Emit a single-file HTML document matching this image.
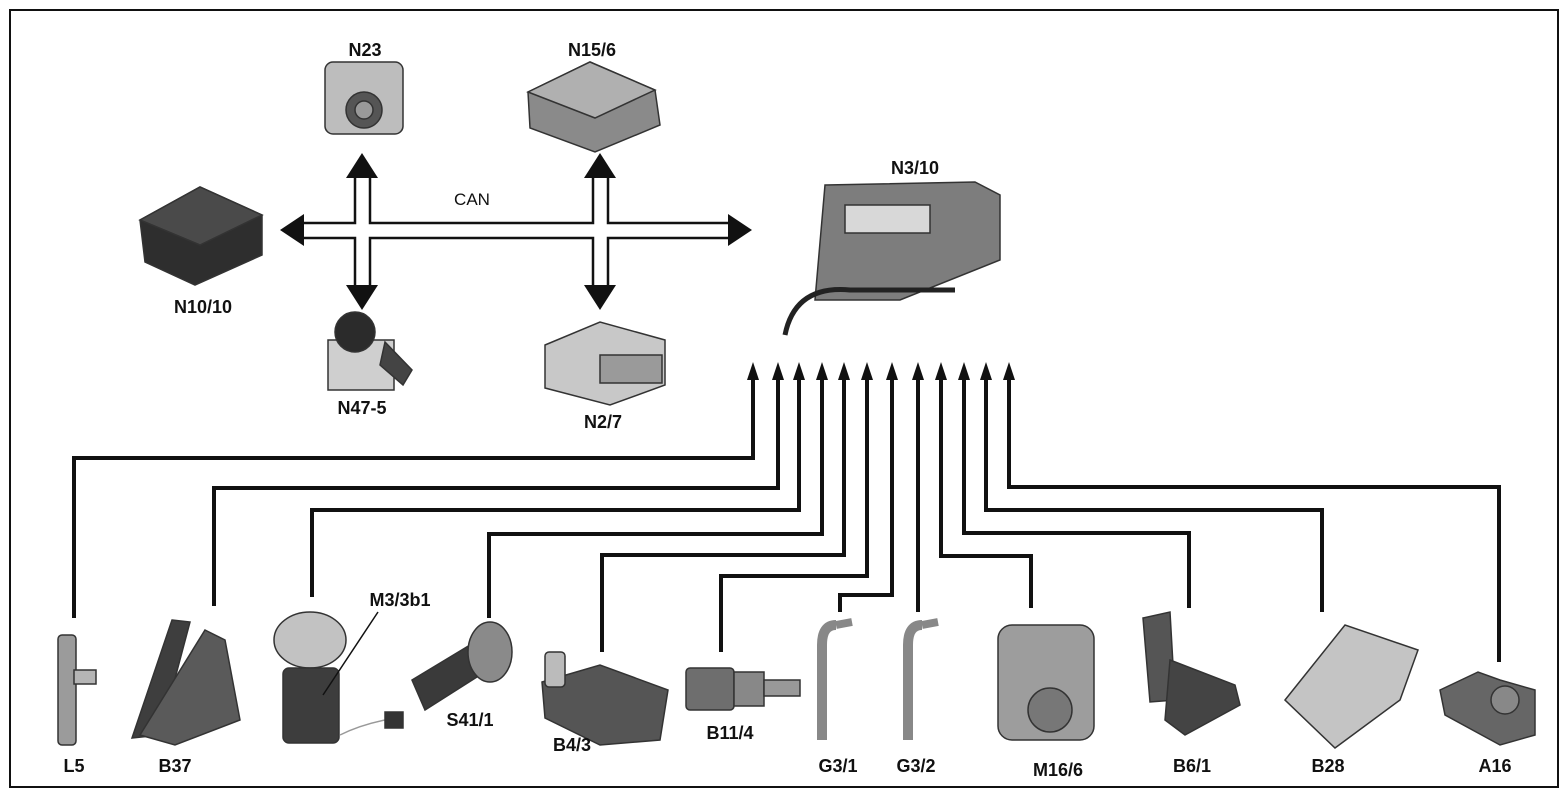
<!DOCTYPE html>
<html><head><meta charset="utf-8"><style>
html,body{margin:0;padding:0;background:#fff}
svg{display:block}
text{font-family:"Liberation Sans",sans-serif;font-weight:bold;font-size:18px;fill:#111}
</style></head><body>
<svg width="1568" height="796" viewBox="0 0 1568 796" xmlns="http://www.w3.org/2000/svg">
<rect x="10" y="10" width="1548" height="777" fill="#fff" stroke="#111" stroke-width="2"/>

<g stroke="#333" stroke-width="1.5">
<rect x="325" y="62" width="78" height="72" rx="8" fill="#bdbdbd"/>
<circle cx="364" cy="110" r="18" fill="#555"/><circle cx="364" cy="110" r="9" fill="#999"/>
<path d="M528 92 L590 62 L655 90 L660 125 L595 152 L530 128 Z" fill="#8a8a8a"/>
<path d="M528 92 L590 62 L655 90 L595 118 Z" fill="#b0b0b0"/>
<path d="M825 185 L975 182 L1000 195 L1000 260 L900 300 L815 300 Z" fill="#7d7d7d"/>
<rect x="845" y="205" width="85" height="28" fill="#d8d8d8"/>
<path d="M785 335 Q795 285 850 290 L955 290" fill="none" stroke="#222" stroke-width="5"/>
<path d="M140 220 L200 187 L262 215 L262 255 L195 285 L145 262 Z" fill="#2e2e2e"/>
<path d="M140 220 L200 187 L262 215 L200 245 Z" fill="#4a4a4a"/>
<rect x="328" y="340" width="66" height="50" fill="#cfcfcf"/>
<circle cx="355" cy="332" r="20" fill="#2b2b2b"/>
<path d="M385 342 L412 370 L403 385 L380 365 Z" fill="#444"/>
<path d="M545 345 L600 322 L665 340 L665 385 L610 405 L545 388 Z" fill="#c8c8c8"/>
<rect x="600" y="355" width="62" height="28" fill="#9a9a9a"/>
<rect x="58" y="635" width="18" height="110" rx="4" fill="#9b9b9b"/>
<rect x="74" y="670" width="22" height="14" fill="#b5b5b5"/>
<path d="M172 620 L190 622 L160 735 L132 738 Z" fill="#3e3e3e"/>
<path d="M205 630 L225 640 L240 720 L175 745 L140 735 Z" fill="#5a5a5a"/>
<ellipse cx="310" cy="640" rx="36" ry="28" fill="#c2c2c2"/>
<rect x="283" y="668" width="56" height="75" rx="6" fill="#3d3d3d"/>
<path d="M340 735 Q360 725 385 720" fill="none" stroke="#999"/>
<rect x="385" y="712" width="18" height="16" fill="#333"/>
<path d="M412 680 L470 645 L480 675 L425 710 Z" fill="#3a3a3a"/>
<ellipse cx="490" cy="652" rx="22" ry="30" fill="#8a8a8a"/>
<path d="M542 682 L600 665 L668 690 L660 740 L600 745 L545 718 Z" fill="#555"/>
<rect x="545" y="652" width="20" height="35" rx="4" fill="#bbb"/>
<rect x="686" y="668" width="48" height="42" rx="4" fill="#6e6e6e"/>
<rect x="734" y="672" width="30" height="34" fill="#888"/>
<rect x="764" y="680" width="36" height="16" fill="#999"/>
<path d="M836 625 Q822 625 822 645 L822 740" fill="none" stroke="#888" stroke-width="10"/>
<path d="M836 625 L852 622" stroke="#888" stroke-width="8"/>
<path d="M922 625 Q908 625 908 645 L908 740" fill="none" stroke="#888" stroke-width="10"/>
<path d="M922 625 L938 622" stroke="#888" stroke-width="8"/>
<rect x="998" y="625" width="96" height="115" rx="14" fill="#9d9d9d"/>
<circle cx="1050" cy="710" r="22" fill="#777"/>
<path d="M1143 618 L1170 612 L1175 700 L1150 702 Z" fill="#555"/>
<path d="M1170 660 L1235 685 L1240 705 L1185 735 L1165 720 Z" fill="#444"/>
<path d="M1285 700 L1345 625 L1418 650 L1400 700 L1335 748 Z" fill="#c4c4c4"/>
<path d="M1440 690 L1478 672 L1500 680 L1535 690 L1535 735 L1500 745 L1445 715 Z" fill="#666"/>
<circle cx="1505" cy="700" r="14" fill="#888"/>
</g>

<g stroke="#111" stroke-width="2.5" fill="none">
<path d="M303 223 L355 223 L355 178 M370 178 L370 223 L593 223 L593 178 M608 178 L608 223 L728 223 M728 238 L608 238 L608 285 M593 285 L593 238 L370 238 L370 285 M355 285 L355 238 L303 238"/>
</g>
<g fill="#111">
<polygon points="280,230 304,214 304,246"/>
<polygon points="752,230 728,214 728,246"/>
<polygon points="362,153 346,178 378,178"/>
<polygon points="362,310 346,285 378,285"/>
<polygon points="600,153 584,178 616,178"/>
<polygon points="600,310 584,285 616,285"/>
</g>

<g stroke="#111" stroke-width="4" fill="none">
<polyline points="74,618 74,458 753,458 753,376"/>
<polyline points="214,606 214,488 778,488 778,376"/>
<polyline points="312,597 312,510 799,510 799,376"/>
<polyline points="489,618 489,534 822,534 822,376"/>
<polyline points="602,652 602,555 844,555 844,376"/>
<polyline points="721,652 721,576 867,576 867,376"/>
<polyline points="840,612 840,595 892,595 892,376"/>
<polyline points="918,612 918,376"/>
<polyline points="1031,608 1031,556 941,556 941,376"/>
<polyline points="1189,608 1189,533 964,533 964,376"/>
<polyline points="1322,612 1322,510 986,510 986,376"/>
<polyline points="1499,662 1499,487 1009,487 1009,376"/>
</g>
<g fill="#111">
<polygon points="753,362 747,380 759,380"/><polygon points="778,362 772,380 784,380"/>
<polygon points="799,362 793,380 805,380"/><polygon points="822,362 816,380 828,380"/>
<polygon points="844,362 838,380 850,380"/><polygon points="867,362 861,380 873,380"/>
<polygon points="892,362 886,380 898,380"/><polygon points="918,362 912,380 924,380"/>
<polygon points="941,362 935,380 947,380"/><polygon points="964,362 958,380 970,380"/>
<polygon points="986,362 980,380 992,380"/><polygon points="1009,362 1003,380 1015,380"/>
</g>
<line x1="378" y1="612" x2="323" y2="695" stroke="#111" stroke-width="1.5"/>

<text x="365" y="56" text-anchor="middle">N23</text>
<text x="592" y="56" text-anchor="middle">N15/6</text>
<text x="915" y="174" text-anchor="middle">N3/10</text>
<text x="203" y="313" text-anchor="middle">N10/10</text>
<text x="362" y="414" text-anchor="middle">N47-5</text>
<text x="603" y="428" text-anchor="middle">N2/7</text>
<text x="472" y="205" text-anchor="middle" style="font-weight:normal;font-size:17px">CAN</text>
<text x="74" y="772" text-anchor="middle">L5</text>
<text x="175" y="772" text-anchor="middle">B37</text>
<text x="400" y="606" text-anchor="middle">M3/3b1</text>
<text x="470" y="726" text-anchor="middle">S41/1</text>
<text x="572" y="751" text-anchor="middle">B4/3</text>
<text x="730" y="739" text-anchor="middle">B11/4</text>
<text x="838" y="772" text-anchor="middle">G3/1</text>
<text x="916" y="772" text-anchor="middle">G3/2</text>
<text x="1058" y="776" text-anchor="middle">M16/6</text>
<text x="1192" y="772" text-anchor="middle">B6/1</text>
<text x="1328" y="772" text-anchor="middle">B28</text>
<text x="1495" y="772" text-anchor="middle">A16</text>
</svg>
</body></html>
